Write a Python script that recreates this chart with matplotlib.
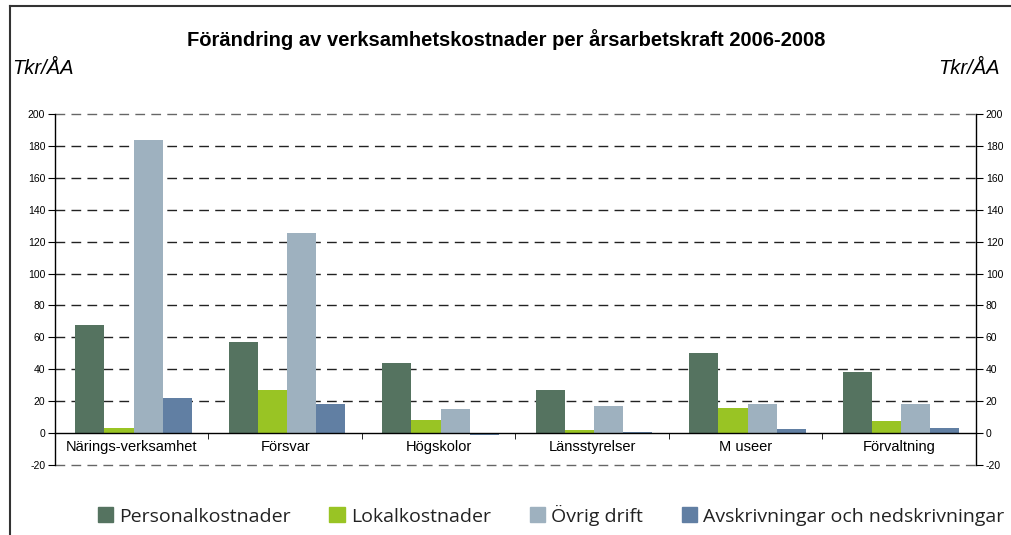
import matplotlib
matplotlib.use("Agg")
import matplotlib.pyplot as plt
import numpy as np
from matplotlib.patches import Patch
from matplotlib.lines import Line2D

categories = ["Närings-verksamhet", "Försvar", "Högskolor", "Länsstyrelser", "M useer", "Förvaltning"]
series_names = ["Personalkostnader", "Lokalkostnader", "Övrig drift", "Avskrivningar och nedskrivningar"]
personal = [68, 57, 44, 27, 50, 38.5]
lokal = [3.5, 27, 8.5, 2, 15.5, 7.5]
ovrig = [184, 125.5, 15, 17, 18, 18]
avskr = [22, 18, -1.5, 0.8, 2.3, 3.5]
colors = ["#557360", "#99c424", "#9eb1bf", "#617fa3"]
yticks = list(range(-20, 201, 20))

title = "Förändring av verksamhetskostnader per årsarbetskraft 2006-2008"
unit = "Tkr/ÅA"


def main():
    plt.rcParams["axes.unicode_minus"] = False
    fig = plt.figure(figsize=(10.12, 5.35), dpi=100)
    ax = fig.add_axes([55 / 1012, 1 - 465 / 535, 921 / 1012, 351 / 535])

    x = np.arange(len(categories))
    w = 0.19
    data = [personal, lokal, ovrig, avskr]
    for i, (vals, c) in enumerate(zip(data, colors)):
        ax.bar(x + (i - 1.5) * w + 0.012, vals, width=w, color=c, zorder=3)

    ax.set_xlim(-0.5, len(categories) - 0.5)
    ax.set_ylim(-20, 200)
    ax.set_yticks(yticks)
    for yv in yticks:
        if yv == 0:
            continue
        # outer grid lines look a bit lighter in the original
        col = "#666666" if yv in (-20, 200) else "#222222"
        ax.axhline(yv, color=col, lw=1, ls=(0, (7, 4.5)), zorder=1, clip_on=False)

    ax.spines["top"].set_visible(False)
    ax.spines["bottom"].set_position(("data", 0))
    ax.spines["bottom"].set_zorder(4)
    for s in ["left", "right", "bottom"]:
        ax.spines[s].set_linewidth(1)
        ax.spines[s].set_color("black")

    ax.set_xticks(x)
    ax.set_xticklabels(categories, fontsize=10.5, family="Liberation Sans")
    ax.set_xticks(np.arange(0.5, len(categories) - 0.5, 1), minor=True)
    ax.tick_params(axis="x", which="major", length=0, pad=5)
    ax.tick_params(axis="x", which="minor", length=4, direction="out")
    ax.tick_params(axis="y", which="both", length=5, direction="out", labelsize=7.5,
                   right=True, labelright=True, left=True, labelleft=True, pad=2)
    for lab in ax.get_yticklabels():
        lab.set_family("Liberation Sans")

    fig.text(0.5, 1 - 40 / 535, title, ha="center", va="center", fontsize=14.5,
             fontweight="bold", family="Liberation Sans")
    fig.text(12 / 1012, 1 - 68 / 535, unit, ha="left", va="center", fontsize=14.5,
             style="italic", family="Liberation Sans")
    fig.text(1000 / 1012, 1 - 68 / 535, unit, ha="right", va="center", fontsize=14.5,
             style="italic", family="Liberation Sans")

    # outer frame of the original sheet
    fig.add_artist(Line2D([10 / 1012, 10 / 1012], [0, 1 - 6 / 535], transform=fig.transFigure,
                          color="#333333", lw=1.5))
    fig.add_artist(Line2D([10 / 1012, 1], [1 - 6 / 535, 1 - 6 / 535], transform=fig.transFigure,
                          color="#333333", lw=1.5))

    handles = [Patch(color=c) for c in colors]
    leg = fig.legend(handles, series_names, loc="center", bbox_to_anchor=(551 / 1012, 1 - 515 / 535),
                     ncol=4, frameon=False, prop={"family": "Open Sans", "size": 14},
                     handlelength=0.8, handleheight=0.8, handletextpad=0.3, columnspacing=2.0)
    for t in leg.get_texts():
        t.set_color("#222222")

    fig.savefig("out.png", dpi=100)


if __name__ == "__main__":
    main()
